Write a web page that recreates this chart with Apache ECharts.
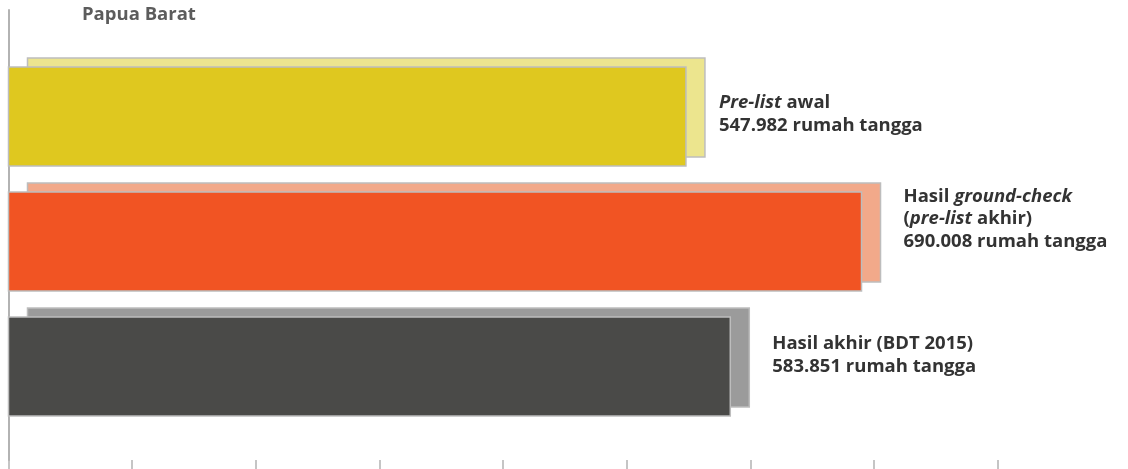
<!DOCTYPE html>
<html>
<head>
<meta charset="utf-8">
<script src="https://cdn.jsdelivr.net/npm/echarts@6/dist/echarts.min.js"></script>
<style>
html,body{margin:0;padding:0;background:#fff;}
#chart{width:1128px;height:469px;}
</style>
</head>
<body>
<div id="chart"></div>
<script>
const title = 'Papua Barat';
const categories = ['Pre-list awal', 'Hasil ground-check (pre-list akhir)', 'Hasil akhir (BDT 2015)'];
const values = [547982, 690008, 583851];
const labelHeads = ['{i|Pre-list} awal', 'Hasil {i|ground-check}\n({i|pre-list} akhir)', 'Hasil akhir (BDT 2015)'];
const unitText = 'rumah tangga';
const xTicks = [0, 100000, 200000, 300000, 400000, 500000, 600000, 700000, 800000];

const frontColors = ['#dfc81f', '#f15423', '#4a4a48'];
const backColors = ['#ece58e', '#f2a98a', '#9b9b9b'];
const labelDx = [14, 23, 23];
const labelDy = [2, -18, -7];
const FONT = '"Open Sans"';

function fmt(n) {
  return String(n).replace(/\B(?=(\d{3})+(?!\d))/g, '.');
}

const chart = echarts.init(document.getElementById('chart'), null, {renderer: 'canvas'});

const option = {
  animation: false,
  backgroundColor: '#ffffff',
  title: {
    text: title,
    left: 77,
    top: 0,
    textStyle: {fontFamily: FONT, fontWeight: 'bold', fontSize: 18.5, color: '#5c5c5c'}
  },
  grid: [
    {left: 8.5, width: 989, top: 49.5, height: 375},
    {left: 8.5, width: 989, top: 10, bottom: 9}
  ],
  xAxis: [
    {gridIndex: 0, type: 'value', min: 0, max: 800000, interval: 100000, show: false},
    {gridIndex: 1, type: 'value', min: 0, max: 800000, interval: 100000,
      axisLine: {show: false},
      axisTick: {show: true, length: 10, lineStyle: {color: '#b3b3b3', width: 1.5}},
      axisLabel: {show: false}, splitLine: {show: false}},
  ],
  yAxis: [
    {gridIndex: 0, type: 'category', data: categories, inverse: true, show: false},
    {gridIndex: 1, type: 'value', min: 0, max: 1,
      axisLine: {show: true, lineStyle: {color: '#b3b3b3', width: 2}},
      axisTick: {show: false}, axisLabel: {show: false}, splitLine: {show: false}}
  ],
  series: [{
    type: 'custom',
    xAxisIndex: 0,
    yAxisIndex: 0,
    data: values.map((v, i) => [v, i]),
    encode: {x: 0, y: 1},
    renderItem: function (params, api) {
      const i = params.dataIndex;
      const v = api.value(0);
      const p0 = api.coord([0, i]);
      const p1 = api.coord([v, i]);
      const bw = api.size([0, 1])[1] * 0.792;
      const dx = 19, dy = 9;
      const cy = p0[1];
      const frontTop = cy - bw / 2 + dy / 2;
      const backTop = frontTop - dy;
      const len = p1[0] - p0[0];
      return {
        type: 'group',
        children: [
          {type: 'rect', shape: {x: p0[0] + dx, y: backTop, width: len, height: bw},
            style: {fill: backColors[i], stroke: '#bdbdbd', lineWidth: 1.5}},
          {type: 'rect', shape: {x: p0[0], y: frontTop, width: len, height: bw},
            style: {fill: frontColors[i], stroke: '#bdbdbd', lineWidth: 1.5}},
          {type: 'text',
            x: p1[0] + dx + labelDx[i], y: cy + labelDy[i],
            style: {
              text: labelHeads[i] + '\n' + fmt(values[i]) + ' ' + unitText,
              fill: '#333333',
              fontFamily: FONT, fontWeight: 'bold', fontSize: 18.5, lineHeight: 22.5,
              verticalAlign: 'middle', align: 'left',
              rich: {
                i: {fontFamily: FONT, fontStyle: 'italic', fontWeight: 'bold', fontSize: 18.5, lineHeight: 22.5, fill: '#333333'}
              }
            }}
        ]
      };
    }
  }]
};
chart.setOption(option);
</script>
</body>
</html>
